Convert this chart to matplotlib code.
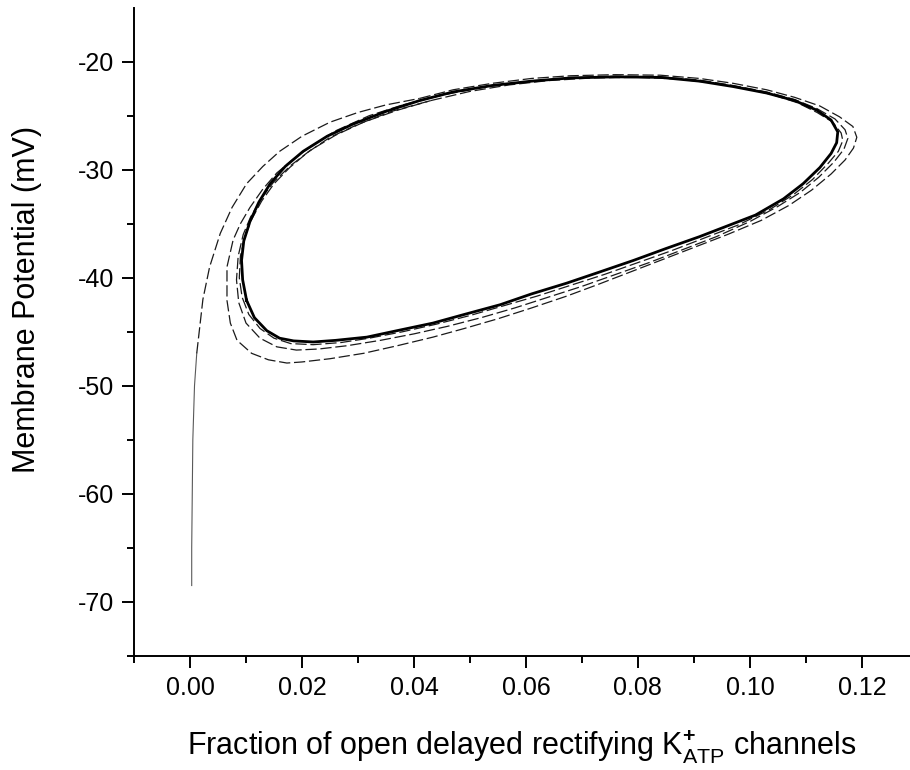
import matplotlib
matplotlib.use("Agg")
import matplotlib.pyplot as plt

plt.rcParams['font.family'] = ['Liberation Sans', 'DejaVu Sans']
plt.rcParams['mathtext.fontset'] = 'custom'
plt.rcParams['mathtext.rm'] = 'Liberation Sans'
plt.rcParams['mathtext.bf'] = 'Liberation Sans:bold'

# transient: from rest up the left side and over the top
transient_x = [0.0003, 0.0003, 0.0004, 0.0005, 0.0008, 0.0012, 0.0023, 0.0035, 0.0054, 0.0075,
               0.0101, 0.0130, 0.0160, 0.0200, 0.0250, 0.0300, 0.0350, 0.0410]
transient_y = [-68.5, -65.0, -60.0, -55.0, -50.0, -47.0, -42.0, -39.0, -35.9, -33.5,
               -31.3, -29.7, -28.3, -26.9, -25.6, -24.7, -24.0, -23.4]

# first (outermost) loop
loop1_x = [0.0410, 0.0470, 0.0540, 0.0610, 0.0680, 0.0760, 0.0840, 0.0910, 0.0970, 0.1030,
           0.1080, 0.1125, 0.1160, 0.1184, 0.1191, 0.1185, 0.1170, 0.1145, 0.1110, 0.1070,
           0.1020, 0.0960, 0.0910, 0.0850, 0.0790, 0.0730, 0.0673, 0.0610, 0.0550, 0.0490,
           0.0434, 0.0370, 0.0310, 0.0250, 0.0200, 0.0173, 0.0140, 0.0110, 0.0084, 0.0072,
           0.0066, 0.0066, 0.0077, 0.0090, 0.0107, 0.0130, 0.0155, 0.0185, 0.0214, 0.0260,
           0.0320, 0.0380]
loop1_y = [-23.4, -22.6, -22.0, -21.55, -21.3, -21.2, -21.25, -21.55, -22.0, -22.6,
           -23.3, -24.1, -25.1, -26.0, -27.0, -28.0, -29.1, -30.4, -31.9, -33.3,
           -34.7, -36.0, -37.0, -38.2, -39.4, -40.6, -41.7, -42.8, -43.8, -44.7,
           -45.5, -46.3, -47.0, -47.5, -47.8, -47.9, -47.6, -47.0, -45.8, -44.2,
           -42.1, -39.0, -36.5, -35.0, -33.5, -31.8, -30.3, -29.0, -27.9, -26.4,
           -25.0, -24.0]

# second loop
loop2_x = [0.0380, 0.0450, 0.0520, 0.0600, 0.0680, 0.0760, 0.0840, 0.0910, 0.0970, 0.1030,
           0.1080, 0.1120, 0.1152, 0.1170, 0.1175, 0.1168, 0.1150, 0.1123, 0.1090, 0.1050,
           0.1000, 0.0940, 0.0880, 0.0820, 0.0760, 0.0700, 0.0640, 0.0580, 0.0520, 0.0460,
           0.0400, 0.0340, 0.0280, 0.0230, 0.0190, 0.0155, 0.0125, 0.0100, 0.0087, 0.0083,
           0.0086, 0.0095, 0.0108, 0.0128, 0.0150, 0.0180, 0.0215, 0.0260, 0.0310, 0.0370,
           0.0430]
loop2_y = [-24.0, -23.1, -22.4, -21.85, -21.5, -21.35, -21.4, -21.7, -22.2, -22.8,
           -23.5, -24.35, -25.3, -26.3, -27.1, -28.1, -29.3, -30.7, -32.1, -33.4,
           -34.8, -36.2, -37.4, -38.6, -39.7, -40.8, -41.8, -42.8, -43.7, -44.5,
           -45.2, -45.8, -46.3, -46.6, -46.7, -46.4, -45.6, -44.2, -42.3, -40.2,
           -38.0, -36.0, -34.4, -32.6, -31.1, -29.6, -28.2, -26.8, -25.6, -24.5,
           -23.6]

# third loop
loop3_x = [0.0430, 0.0500, 0.0570, 0.0640, 0.0720, 0.0800, 0.0870, 0.0930, 0.0990, 0.1040,
           0.1085, 0.1120, 0.1148, 0.1163, 0.1166, 0.1158, 0.1140, 0.1112, 0.1078, 0.1035,
           0.0980, 0.0920, 0.0860, 0.0800, 0.0740, 0.0680, 0.0620, 0.0560, 0.0500, 0.0440,
           0.0380, 0.0320, 0.0270, 0.0220, 0.0180, 0.0150, 0.0125, 0.0105, 0.0093, 0.0088,
           0.0090, 0.0098, 0.0110, 0.0128, 0.0150, 0.0178, 0.0210, 0.0250, 0.0300, 0.0360,
           0.0430]
loop3_y = [-23.6, -22.75, -22.15, -21.75, -21.5, -21.45, -21.6, -21.95, -22.45, -23.05,
           -23.8, -24.7, -25.6, -26.6, -27.3, -28.3, -29.4, -30.9, -32.3, -33.7,
           -35.1, -36.3, -37.5, -38.6, -39.7, -40.7, -41.7, -42.6, -43.5, -44.3,
           -45.0, -45.6, -46.0, -46.2, -46.1, -45.6, -44.7, -43.4, -41.8, -40.0,
           -38.0, -36.2, -34.6, -32.9, -31.3, -29.8, -28.4, -27.0, -25.8, -24.6,
           -23.6]

# limit cycle
cycle_x = [0.0101, 0.0094, 0.0092, 0.0096, 0.0107, 0.0123, 0.0143, 0.0170, 0.0202, 0.0245,
           0.0290, 0.0350, 0.0410, 0.0470, 0.0540, 0.0610, 0.0680, 0.0760, 0.0840, 0.0910,
           0.0970, 0.1030, 0.1080, 0.1120, 0.1145, 0.1157, 0.1155, 0.1145, 0.1125, 0.1095,
           0.1060, 0.1010, 0.0970, 0.0910, 0.0850, 0.0792, 0.0730, 0.0673, 0.0610, 0.0554,
           0.0490, 0.0434, 0.0370, 0.0316, 0.0260, 0.0220, 0.0185, 0.0160, 0.0137, 0.0115,
           0.0101]
cycle_y = [-42.1, -40.2, -38.4, -36.6, -34.8, -33.0, -31.3, -29.7, -28.3, -26.9,
           -25.8, -24.6, -23.6, -22.8, -22.2, -21.8, -21.5, -21.4, -21.45, -21.8,
           -22.3, -22.9, -23.6, -24.5, -25.4, -26.5, -27.5, -28.5, -29.8, -31.3,
           -32.7, -34.2, -35.0, -36.2, -37.3, -38.4, -39.5, -40.5, -41.5, -42.5,
           -43.4, -44.2, -44.9, -45.5, -45.8, -45.95, -45.85, -45.6, -44.9, -43.7,
           -42.1]

fig = plt.figure(figsize=(9.1, 7.7), dpi=100)
ax = fig.add_axes([0.1473, 0.1484, 0.8527, 0.8416])

# rising part solid and light, the rest of the approach dashed
ax.plot(transient_x[:6], transient_y[:6], color='0.35', lw=0.8)
ax.plot(transient_x[5:], transient_y[5:], color='0.1', lw=0.9, dashes=(9, 3))
for lx, ly in [(loop1_x, loop1_y), (loop2_x, loop2_y), (loop3_x, loop3_y)]:
    ax.plot(lx, ly, color='0.1', lw=0.9, dashes=(9, 3))
ax.plot(cycle_x, cycle_y, color='black', lw=2.0, solid_joinstyle='round')

ax.set_xlim(-0.01, 0.1286)
ax.set_ylim(-75, -15)
ax.set_xticks([0.00, 0.02, 0.04, 0.06, 0.08, 0.10, 0.12])
ax.set_xticks([-0.01, 0.01, 0.03, 0.05, 0.07, 0.09, 0.11], minor=True)
ax.set_yticks([-70, -60, -50, -40, -30, -20])
ax.set_yticks([-75, -65, -55, -45, -35, -25], minor=True)
ax.set_xticklabels(['0.00', '0.02', '0.04', '0.06', '0.08', '0.10', '0.12'])
ax.set_yticklabels(['-70', '-60', '-50', '-40', '-30', '-20'])

for s in ['top', 'right']:
    ax.spines[s].set_visible(False)
for s in ['left', 'bottom']:
    ax.spines[s].set_linewidth(1.4)
ax.tick_params(which='major', direction='out', length=8.5, width=1.4, labelsize=18, pad=6)
ax.tick_params(which='minor', direction='out', length=5, width=1.4)

ax.set_ylabel('Membrane Potential (mV)', fontsize=22)
ax.set_xlabel(r'Fraction of open delayed rectifying K$^{\mathbf{+}}_{\mathrm{ATP}}$ channels',
              fontsize=22)
ax.yaxis.set_label_coords(-0.118, 0.55)
ax.xaxis.set_label_coords(0.5, -0.112)

fig.savefig('out.png', dpi=100)
